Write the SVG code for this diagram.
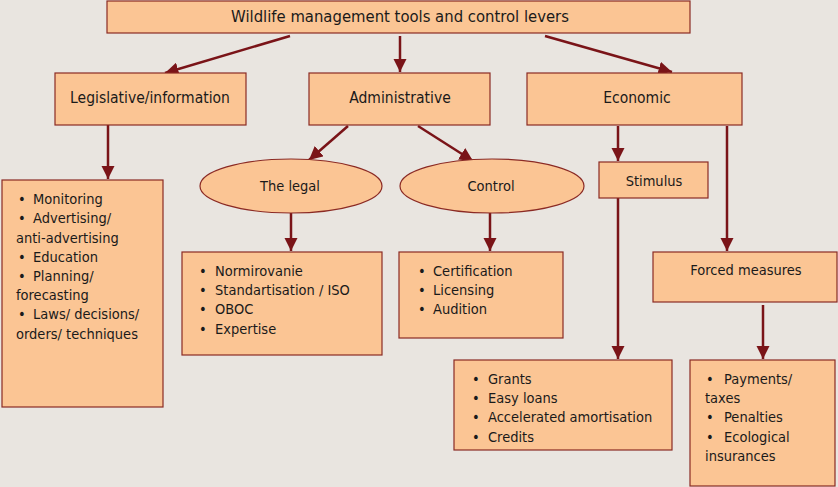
<svg xmlns="http://www.w3.org/2000/svg" width="838" height="487" viewBox="0 0 838 487">
<style>
.bg{fill:#e9e5e0}
.box{fill:#fbc594;stroke:#8b2a24;stroke-width:1.2}
.t{font-family:"Liberation Sans Narrow","DejaVu Sans Condensed","Liberation Sans",sans-serif;font-size:14.5px;fill:#1a1a1a}
.h{font-size:15.5px}
.c{text-anchor:middle}
.ln{stroke:#7a1418;stroke-width:2.5;fill:none;marker-end:url(#ah)}
</style>
<defs>
<marker id="ah" viewBox="0 0 10 10" refX="10" refY="5" markerWidth="5.4" markerHeight="5.4" orient="auto" markerUnits="strokeWidth">
<path d="M0,0 L10,5 L0,10 z" fill="#7a1418"/>
</marker>
</defs>
<rect class="bg" x="0" y="0" width="838" height="487"/>
<g id="connectors">
<line class="ln" x1="290" y1="36" x2="165" y2="73"/>
<line class="ln" x1="400" y1="36" x2="400" y2="72"/>
<line class="ln" x1="545" y1="36" x2="672" y2="72"/>
<line class="ln" x1="108" y1="125" x2="108" y2="179"/>
<line class="ln" x1="348" y1="126" x2="309" y2="160"/>
<line class="ln" x1="418" y1="126" x2="473" y2="161"/>
<line class="ln" x1="291" y1="213" x2="291" y2="251"/>
<line class="ln" x1="490" y1="213" x2="490" y2="251"/>
<line class="ln" x1="618" y1="126" x2="618" y2="161"/>
<line class="ln" x1="727" y1="126" x2="727" y2="251"/>
<line class="ln" x1="618" y1="198" x2="618" y2="359"/>
<line class="ln" x1="763" y1="305" x2="763" y2="359"/>
</g>
<g id="root">
<rect class="box" x="107" y="1" width="583" height="32"/>
<text class="t h c" x="400" y="22" style="font-size:16.5px">Wildlife management tools and control levers</text>
</g>
<g id="legislative">
<rect class="box" x="55" y="73" width="191" height="52"/>
<text class="t h c" x="150" y="103">Legislative/information</text>
</g>
<g id="administrative">
<rect class="box" x="309" y="73" width="181" height="52"/>
<text class="t h c" x="400" y="103">Administrative</text>
</g>
<g id="economic">
<rect class="box" x="527" y="73" width="215" height="52"/>
<text class="t h c" x="637" y="103">Economic</text>
</g>
<g id="legislative-list">
<rect class="box" x="2" y="180" width="161" height="227"/>
<text class="t" x="18" y="204">•<tspan x="33">Monitoring</tspan></text>
<text class="t" x="18" y="223">•<tspan x="33">Advertising/</tspan></text>
<text class="t" x="16" y="243">anti-advertising</text>
<text class="t" x="18" y="262">•<tspan x="33">Education</tspan></text>
<text class="t" x="18" y="281">•<tspan x="33">Planning/</tspan></text>
<text class="t" x="16" y="300">forecasting</text>
<text class="t" x="18" y="319">•<tspan x="33">Laws/ decisions/</tspan></text>
<text class="t" x="16" y="339">orders/ techniques</text>
</g>
<g id="legal">
<ellipse class="box" cx="291" cy="186" rx="91" ry="27"/>
<text class="t c" x="290" y="191">The legal</text>
</g>
<g id="control">
<ellipse class="box" cx="492" cy="186" rx="92" ry="27"/>
<text class="t c" x="491" y="191">Control</text>
</g>
<g id="legal-list">
<rect class="box" x="182" y="252" width="200" height="103"/>
<text class="t" x="199" y="276">•<tspan x="215">Normirovanie</tspan></text>
<text class="t" x="199" y="295">•<tspan x="215">Standartisation / ISO</tspan></text>
<text class="t" x="199" y="314">•<tspan x="215">OBOC</tspan></text>
<text class="t" x="199" y="334">•<tspan x="215">Expertise</tspan></text>
</g>
<g id="control-list">
<rect class="box" x="399" y="252" width="164" height="86"/>
<text class="t" x="418" y="276">•<tspan x="433">Certification</tspan></text>
<text class="t" x="418" y="295">•<tspan x="433">Licensing</tspan></text>
<text class="t" x="418" y="314">•<tspan x="433">Audition</tspan></text>
</g>
<g id="stimulus">
<rect class="box" x="599" y="162" width="109" height="36"/>
<text class="t c" x="654" y="186">Stimulus</text>
</g>
<g id="forced">
<rect class="box" x="653" y="252" width="184" height="50"/>
<text class="t c" x="746" y="275">Forced measures</text>
</g>
<g id="stimulus-list">
<rect class="box" x="454" y="360" width="218" height="90"/>
<text class="t" x="472" y="384">•<tspan x="488">Grants</tspan></text>
<text class="t" x="472" y="403">•<tspan x="488">Easy loans</tspan></text>
<text class="t" x="472" y="422">•<tspan x="488">Accelerated amortisation</tspan></text>
<text class="t" x="472" y="442">•<tspan x="488">Credits</tspan></text>
</g>
<g id="forced-list">
<rect class="box" x="690" y="360" width="145" height="126"/>
<text class="t" x="706" y="384">•<tspan x="724">Payments/</tspan></text>
<text class="t" x="705" y="403">taxes</text>
<text class="t" x="706" y="422">•<tspan x="724">Penalties</tspan></text>
<text class="t" x="706" y="442">•<tspan x="724">Ecological</tspan></text>
<text class="t" x="705" y="461">insurances</text>
</g>
</svg>
